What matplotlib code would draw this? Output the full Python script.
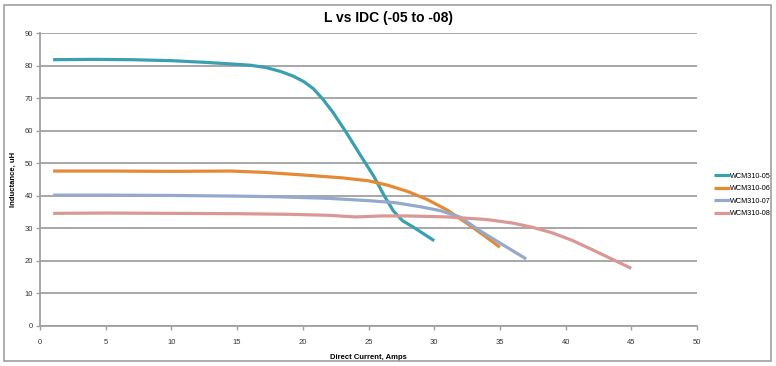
import matplotlib
matplotlib.use("Agg")
import matplotlib.pyplot as plt
from matplotlib.patches import Rectangle

plt.rcParams['font.family'] = ['Liberation Sans', 'DejaVu Sans']

# series (x = amps, y = uH)
x05 = [1, 4, 7, 10, 12.5, 14.5, 16, 17.2, 18.3, 19.3, 20.1, 20.8, 21.5, 22.3, 23.3, 24.3, 25.4, 26.2, 26.9, 27.6, 28.4, 29.2, 30]
y05 = [81.8, 81.9, 81.8, 81.5, 81.0, 80.5, 80.1, 79.4, 78.2, 76.7, 75.0, 72.9, 69.8, 65.6, 59.5, 53.0, 46.0, 40.0, 35.3, 32.3, 30.4, 28.3, 26.2]

x06 = [1, 5, 10, 14.5, 17, 20, 23, 25, 26.5, 28, 29.5, 31, 32.5, 34, 35]
y06 = [47.6, 47.6, 47.5, 47.6, 47.2, 46.4, 45.5, 44.6, 43.2, 41.3, 38.8, 35.6, 31.5, 27.2, 24.2]

x07 = [1, 5, 10, 15, 18, 22, 25, 27, 29, 30.5, 32, 33.5, 35, 37]
y07 = [40.2, 40.2, 40.1, 39.9, 39.7, 39.2, 38.5, 37.9, 36.6, 35.4, 33.4, 29.2, 25.5, 20.6]

x08 = [1, 5, 10, 15, 19, 22, 24, 26, 28, 31, 34, 36, 37.5, 39, 40.5, 42, 43.5, 45]
y08 = [34.6, 34.7, 34.6, 34.5, 34.3, 34.0, 33.5, 33.8, 33.8, 33.5, 32.7, 31.6, 30.3, 28.6, 26.3, 23.5, 20.6, 17.7]

names = ["WCM310-05", "WCM310-06", "WCM310-07", "WCM310-08"]
colors = ["#3a9fae", "#e48a35", "#95a9cd", "#d99896"]

fig = plt.figure(figsize=(7.76, 3.66), dpi=100)
fig.patches.append(Rectangle((4 / 776, 5 / 366), 767 / 776, 356 / 366, transform=fig.transFigure,
                             fill=False, edgecolor="#a0a0a0", linewidth=1.2))

ax = fig.add_axes([40 / 776, 40 / 366, 657 / 776, 293 / 366])
for xs, ys, name, c in zip([x05, x06, x07, x08], [y05, y06, y07, y08], names, colors):
    ax.plot(xs, ys, color=c, lw=2.3, label=name, solid_capstyle="butt",
            solid_joinstyle="round", zorder=3)

ax.set_xlim(0, 50)
ax.set_ylim(0, 90)
ax.set_xticks(range(0, 51, 5))
ax.set_yticks(range(0, 91, 10))
ax.yaxis.grid(True, color="#a0a0a0", lw=1.3)
ax.set_axisbelow(True)
for s in ["top", "right"]:
    ax.spines[s].set_visible(False)
for s in ["left", "bottom"]:
    ax.spines[s].set_color("#a0a0a0")
    ax.spines[s].set_linewidth(1.3)
ax.tick_params(axis="both", colors="#a0a0a0", labelcolor="#333333", labelsize=5.5, length=3, width=1)
ax.tick_params(axis="x", pad=6)
ax.tick_params(axis="y", pad=2)

ax.set_xlabel("Direct Current, Amps", fontsize=5.5, fontweight="bold", labelpad=6)
ax.set_ylabel("Inductance, uH", fontsize=5.5, fontweight="bold", labelpad=6)
fig.text(0.5, 1 - 18 / 366, "L vs IDC (-05 to -08)", ha="center", va="center",
         fontsize=10, fontweight="bold")

ax.legend(loc="center left", bbox_to_anchor=(670 / 657, (366 - 195 - 40) / 293), frameon=False,
          fontsize=5.2, handlelength=2.2, handletextpad=0.0, labelspacing=0.75, borderpad=0)

fig.savefig("out.png", dpi=100)
